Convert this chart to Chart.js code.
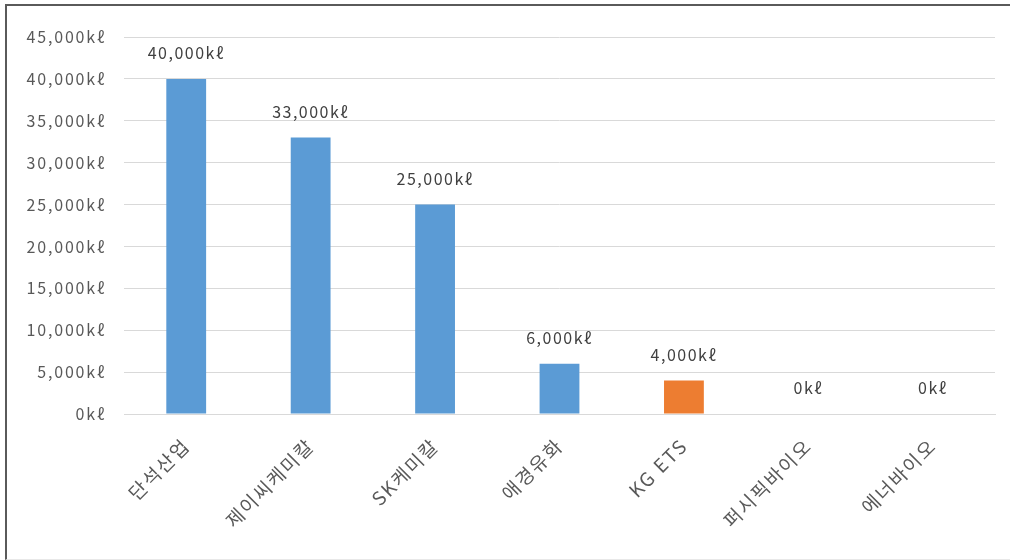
<!DOCTYPE html>
<html>
<head>
<meta charset="utf-8">
<script src="https://cdn.jsdelivr.net/npm/chart.js@4"></script>
<style>
  html, body { margin: 0; padding: 0; background: #fff; overflow: hidden; }
  #wrap { position: relative; width: 1010px; height: 560px; }
  #frame {
    position: absolute; left: 5px; top: 4px; width: 1010px; height: 553px;
    border-left: 2px solid #5a5a5a; border-top: 2px solid #5a5a5a;
    border-bottom: 1px solid #e8e8e8;
  }
  canvas { position: absolute; left: 0; top: 0; }
</style>
</head>
<body>
<div id="wrap">
  <div id="frame"></div>
  <canvas id="chart" width="1010" height="560"></canvas>
</div>
<script>
const companies = ['단석산업', '제이씨케미칼', 'SK케미칼', '애경유화', 'KG ETS', '퍼시픽바이오', '에너바이오'];
const capacity = [40000, 33000, 25000, 6000, 4000, 0, 0];
const barColors = ['#5B9BD5', '#5B9BD5', '#5B9BD5', '#5B9BD5', '#ED7D31', '#5B9BD5', '#5B9BD5'];
const unit = 'kℓ';

const fontFamily = "'Noto Sans CJK KR', 'Noto Sans', sans-serif";
const textColor = '#595959';

const fmt = v => v.toLocaleString('en-US') + unit;

// wider letter spacing like the original
const spacing = {
  id: 'spacing',
  beforeLayout(chart) { chart.ctx.letterSpacing = '1.8px'; },
  beforeDraw(chart) { chart.ctx.letterSpacing = '1.8px'; }
};

const valueLabels = {
  id: 'valueLabels',
  afterDatasetsDraw(chart) {
    let ctx = chart.ctx;
    let meta = chart.getDatasetMeta(0);
    ctx.save();
    ctx.letterSpacing = '1.5px';
    ctx.font = '16px ' + fontFamily;
    ctx.fillStyle = '#404040';
    ctx.textAlign = 'center';
    ctx.textBaseline = 'middle';
    meta.data.forEach((bar, i) => {
      ctx.fillText(fmt(capacity[i]), bar.x, bar.y - 26);
    });
    ctx.restore();
  }
};

new Chart('chart', {
  type: 'bar',
  plugins: [spacing, valueLabels],
  data: {
    labels: companies,
    datasets: [{
      data: capacity,
      backgroundColor: barColors,
      categoryPercentage: 1,
      barPercentage: 0.32
    }]
  },
  options: {
    responsive: false,
    animation: false,
    layout: { padding: { top: 37, right: 15, bottom: 0, left: 0 } },
    plugins: { legend: { display: false }, tooltip: { enabled: false } },
    scales: {
      x: {
        grid: { display: false, drawTicks: false },
        border: { color: '#d9d9d9', width: 1 },
        ticks: {
          minRotation: 45, maxRotation: 45, padding: 20,
          color: textColor, font: { family: fontFamily, size: 19 }
        },
        afterFit: s => { s.height = 146; }
      },
      y: {
        min: 0, max: 45000,
        grid: { color: '#d9d9d9', drawTicks: false },
        border: { display: false },
        ticks: {
          stepSize: 5000, padding: 18,
          color: textColor, font: { family: fontFamily, size: 16 },
          callback: v => fmt(v)
        },
        afterFit: s => { s.width = 124; }
      }
    }
  }
});
</script>
</body>
</html>
